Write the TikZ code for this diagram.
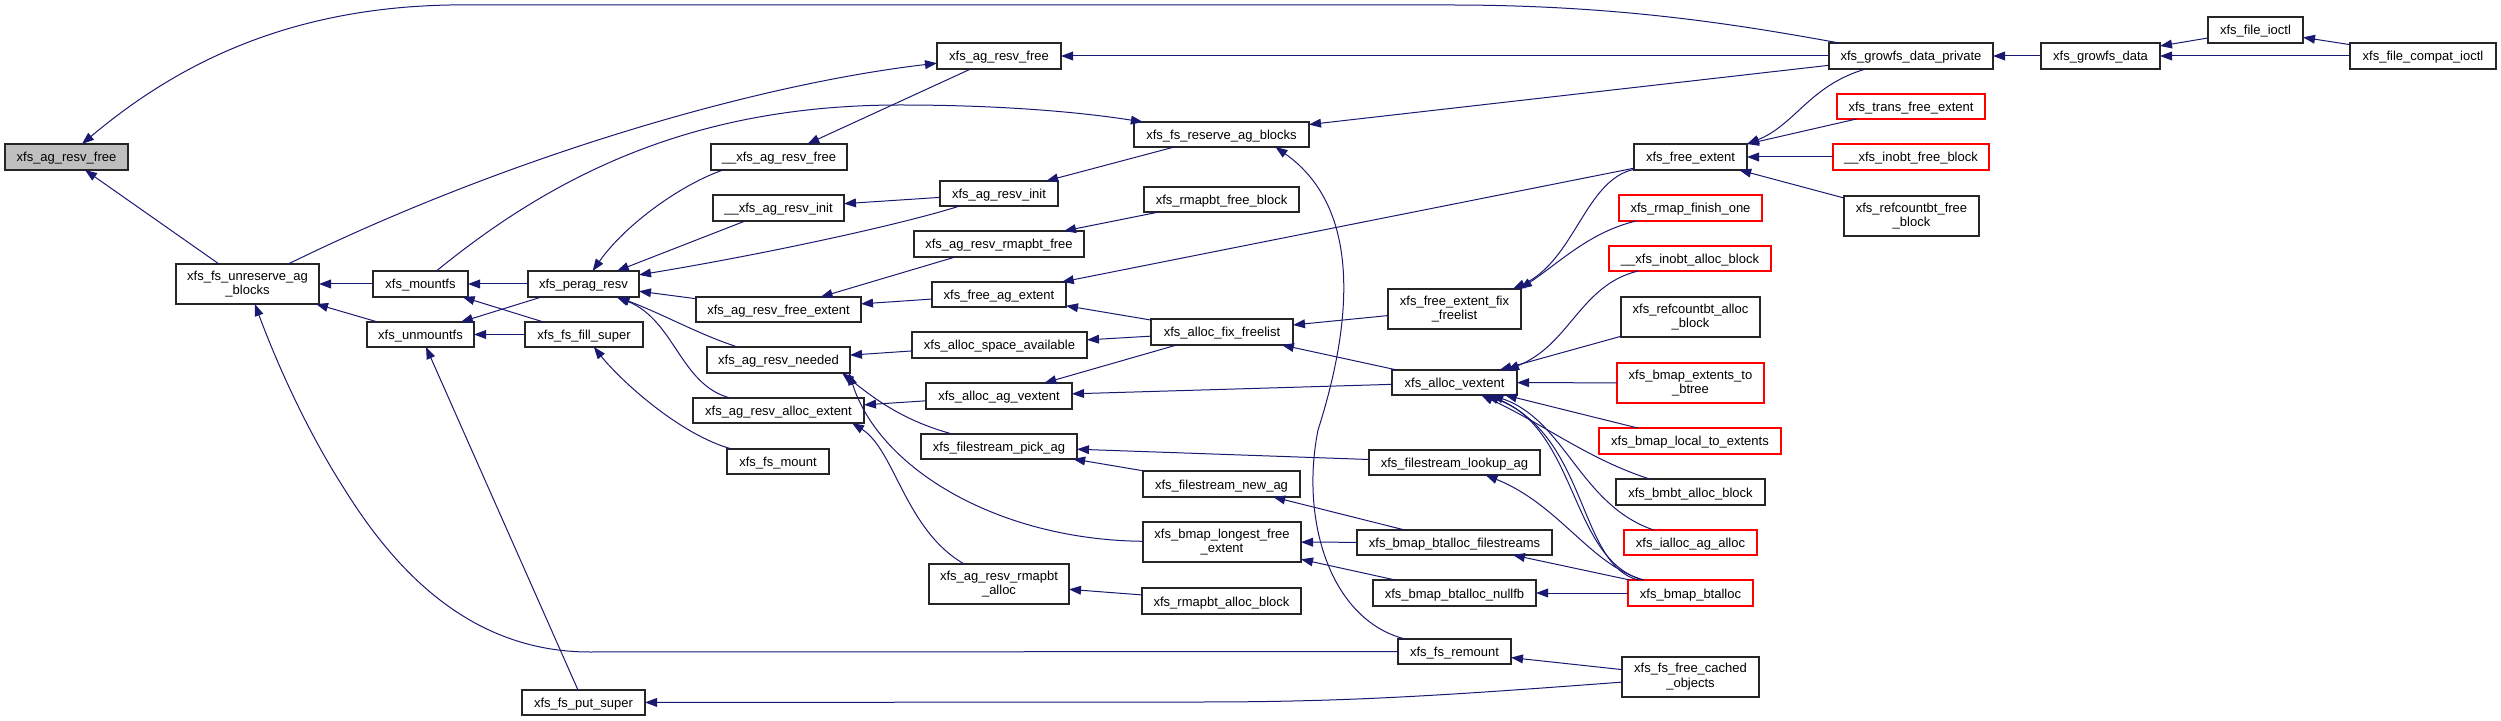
\documentclass[tikz,border=0pt]{standalone}
\usepackage{fontspec}
\setmainfont{Liberation Sans}
\usetikzlibrary{arrows.meta,fit}
\definecolor{edgec}{RGB}{25,25,112}
\definecolor{redc}{RGB}{255,0,0}
\definecolor{rootfill}{RGB}{191,191,191}
\tikzset{
  box/.style={draw=black!85, line width=0.6pt, inner sep=0pt, outer sep=0pt, fill=white},
  redbox/.style={box, draw=redc},
  rootbox/.style={box, fill=rootfill},
  txt/.style={inner sep=0pt, font=\fontsize{6.5}{7.4}\selectfont, text height=0.72em, text depth=0.22em},
  txtt/.style={inner sep=0pt, font=\fontsize{6.5}{7.4}\selectfont, align=center},
  edge/.style={draw=edgec, line width=0.5pt, -{Triangle[length=6pt,width=4.4pt]}}
}
\newcommand\nd[7]{\node[#6, fit={(#2,#3) (#4,#5)}] (#1) {};\node[txt] at (#1.center) {#7};}
\newcommand\ndd[7]{\node[#6, fit={(#2,#3) (#4,#5)}] (#1) {};\node[txtt] at (#1.center) {#7};}
\begin{document}
\begin{tikzpicture}[x=0.5pt,y=-0.5pt]
\useasboundingbox (0,0) rectangle (2501,721);
% nodes
\nd{root}{5}{144}{128}{170}{rootbox}{xfs\_ag\_resv\_free}
\ndd{unres}{176}{264}{319}{304}{box}{xfs\_fs\_unreserve\_ag\\\_blocks}
\nd{mountfs}{373}{271}{468}{297}{box}{xfs\_mountfs}
\nd{unmountfs}{367}{322}{474}{347}{box}{xfs\_unmountfs}
\nd{perag}{528}{271}{639}{297}{box}{xfs\_perag\_resv}
\nd{fill}{525}{322}{643}{347}{box}{xfs\_fs\_fill\_super}
\nd{uagfree}{711}{144}{847}{170}{box}{\_\_xfs\_ag\_resv\_free}
\nd{uaginit}{713}{195}{844}{221}{box}{\_\_xfs\_ag\_resv\_init}
\nd{freeext}{696}{297}{861}{322}{box}{xfs\_ag\_resv\_free\_extent}
\nd{needed}{707}{347}{850}{373}{box}{xfs\_ag\_resv\_needed}
\nd{allocext}{693}{398}{864}{423}{box}{xfs\_ag\_resv\_alloc\_extent}
\nd{fsmount}{727}{449}{829}{474}{box}{xfs\_fs\_mount}
\nd{putsuper}{522}{690}{645}{715}{box}{xfs\_fs\_put\_super}
\nd{agfree2}{937}{43}{1061}{69}{box}{xfs\_ag\_resv\_free}
\nd{reserve}{1134}{122}{1309}{147}{box}{xfs\_fs\_reserve\_ag\_blocks}
\nd{aginit}{940}{181}{1058}{206}{box}{xfs\_ag\_resv\_init}
\nd{rmfreeblk}{1144}{187}{1299}{212}{box}{xfs\_rmapbt\_free\_block}
\nd{rmfree}{914}{231}{1084}{257}{box}{xfs\_ag\_resv\_rmapbt\_free}
\nd{freeag}{932}{282}{1066}{307}{box}{xfs\_free\_ag\_extent}
\nd{spaceav}{912}{332}{1087}{358}{box}{xfs\_alloc\_space\_available}
\nd{fixfl}{1151}{319}{1293}{345}{box}{xfs\_alloc\_fix\_freelist}
\nd{agvext}{926}{383}{1072}{409}{box}{xfs\_alloc\_ag\_vextent}
\nd{pick}{921}{434}{1077}{459}{box}{xfs\_filestream\_pick\_ag}
\nd{newag}{1143}{471}{1300}{497}{box}{xfs\_filestream\_new\_ag}
\ndd{longest}{1143}{522}{1301}{562}{box}{xfs\_bmap\_longest\_free\\\_extent}
\ndd{rmalloc}{929}{564}{1069}{604}{box}{xfs\_ag\_resv\_rmapbt\\\_alloc}
\nd{rmallocblk}{1142}{588}{1301}{614}{box}{xfs\_rmapbt\_alloc\_block}
\nd{remount}{1398}{639}{1511}{664}{box}{xfs\_fs\_remount}
\ndd{cached}{1622}{657}{1759}{697}{box}{xfs\_fs\_free\_cached\\\_objects}
\nd{nullfb}{1373}{580}{1536}{606}{box}{xfs\_bmap\_btalloc\_nullfb}
\nd{bfs}{1357}{530}{1552}{555}{box}{xfs\_bmap\_btalloc\_filestreams}
\nd{lookup}{1369}{450}{1540}{475}{box}{xfs\_filestream\_lookup\_ag}
\nd{vext}{1392}{370}{1517}{395}{box}{xfs\_alloc\_vextent}
\ndd{effl}{1388}{289}{1521}{329}{box}{xfs\_free\_extent\_fix\\\_freelist}
\nd{freeextent}{1634}{144}{1747}{170}{box}{xfs\_free\_extent}
\nd{rmapfin}{1619}{195}{1762}{221}{redbox}{xfs\_rmap\_finish\_one}
\nd{inobtalloc}{1609}{246}{1771}{271}{redbox}{\_\_xfs\_inobt\_alloc\_block}
\ndd{refalloc}{1621}{297}{1760}{337}{box}{xfs\_refcountbt\_alloc\\\_block}
\ndd{ext2bt}{1617}{363}{1764}{403}{redbox}{xfs\_bmap\_extents\_to\\\_btree}
\nd{loc2ext}{1599}{428}{1781}{454}{redbox}{xfs\_bmap\_local\_to\_extents}
\nd{bmbt}{1616}{479}{1765}{505}{box}{xfs\_bmbt\_alloc\_block}
\nd{ialloc}{1624}{530}{1757}{555}{redbox}{xfs\_ialloc\_ag\_alloc}
\nd{btalloc}{1628}{580}{1753}{606}{redbox}{xfs\_bmap\_btalloc}
\nd{gdp}{1829}{43}{1993}{69}{box}{xfs\_growfs\_data\_private}
\nd{transfree}{1837}{94}{1985}{119}{redbox}{xfs\_trans\_free\_extent}
\nd{inobtfree}{1833}{144}{1989}{170}{redbox}{\_\_xfs\_inobt\_free\_block}
\ndd{reffree}{1844}{196}{1979}{236}{box}{xfs\_refcountbt\_free\\\_block}
\nd{gd}{2041}{43}{2160}{69}{box}{xfs\_growfs\_data}
\nd{ioctl}{2208}{17}{2303}{43}{box}{xfs\_file\_ioctl}
\nd{compat}{2350}{43}{2496}{69}{box}{xfs\_file\_compat\_ioctl}
% edges
\draw[edge] (gdp) .. controls (1740,25) and (1620,5) .. (1450,5) -- (450,5) .. controls (280,8) and (170,70) .. (root);
\draw[edge] (unres) -- (root);
\draw[edge] (mountfs) -- (unres);
\draw[edge] (unmountfs) -- (unres);
\draw[edge] (remount) -- (590,652) .. controls (470,652) and (395,570) .. (345,490) .. controls (300,420) and (270,345) .. (unres);
\draw[edge] (unres) .. controls (500,160) and (750,85) .. (agfree2);
\draw[edge] (mountfs) .. controls (560,170) and (700,105) .. (900,105) .. controls (1000,105) and (1080,112) .. (reserve);
\draw[edge] (gdp) -- (agfree2);
\draw[edge] (agfree2) -- (uagfree);
\draw[edge] ([xshift=-28pt]uagfree.south) .. controls (680,185) and (625,225) .. (perag);
\draw[edge] (uaginit) -- (perag);
\draw[edge] (aginit) .. controls (900,225) and (760,255) .. (perag);
\draw[edge] (aginit) -- (uaginit);
\draw[edge] (reserve) -- (aginit);
\draw[edge] (gdp) -- (reserve);
\draw[edge] (remount) .. controls (1330,620) and (1300,520) .. (1318,430) .. controls (1350,330) and (1365,210) .. ([xshift=27pt]reserve.south);
\draw[edge] (freeext) -- (perag);
\draw[edge] (rmfree) -- (freeext);
\draw[edge] (rmfreeblk) -- (rmfree);
\draw[edge] (freeag) -- (freeext);
\draw[edge] (freeextent) -- (freeag);
\draw[edge] (fixfl) -- (freeag);
\draw[edge] (fixfl) -- (spaceav);
\draw[edge] (spaceav) -- (needed);
\draw[edge] (fixfl) -- (agvext);
\draw[edge] (vext) -- (agvext);
\draw[edge] (vext) -- (fixfl);
\draw[edge] (effl) -- (fixfl);
\draw[edge] (freeextent) .. controls (1585,180) and (1575,260) .. ([xshift=-4pt]effl.north east);
\draw[edge] (rmapfin) .. controls (1590,232) and (1560,262) .. ([xshift=-0.5pt]effl.north east);
\draw[edge] (gdp) .. controls (1810,85) and (1795,125) .. (freeextent.north east);
\draw[edge] (transfree) -- (freeextent);
\draw[edge] (inobtfree) -- (freeextent);
\draw[edge] (reffree) -- (freeextent);
\draw[edge] (gd) -- (gdp);
\draw[edge] (ioctl) -- (gd);
\draw[edge] (compat) -- (gd);
\draw[edge] (compat) -- (ioctl);
\draw[edge] (inobtalloc) .. controls (1580,285) and (1570,345) .. ([xshift=-5pt]vext.north east);
\draw[edge] (refalloc) -- (vext);
\draw[edge] (ext2bt) -- (vext);
\draw[edge] (loc2ext) -- (vext);
\draw[edge] (bmbt) .. controls (1590,460) and (1545,425) .. (vext);
\draw[edge] (ialloc) .. controls (1580,505) and (1565,420) .. (vext);
\draw[edge] (btalloc) .. controls (1570,560) and (1578,430) .. (vext);
\draw[edge] (btalloc) .. controls (1578,565) and (1588,435) .. (vext);
\draw[edge] (btalloc) .. controls (1590,565) and (1560,505) .. (lookup);
\draw[edge] (lookup) -- (pick);
\draw[edge] (newag) -- (pick);
\draw[edge] (bfs) -- (newag);
\draw[edge] (bfs) -- (longest);
\draw[edge] (nullfb) -- (longest);
\draw[edge] (btalloc) -- (bfs);
\draw[edge] (btalloc) -- (nullfb);
\draw[edge] (cached) -- (remount);
\draw[edge] (cached) .. controls (1450,695) and (1350,702) .. (1200,702) -- (putsuper);
\draw[edge] (putsuper) -- (unmountfs);
\draw[edge] (fsmount) .. controls (680,435) and (620,380) .. (fill);
\draw[edge] (fill) -- (mountfs);
\draw[edge] (fill) -- (unmountfs);
\draw[edge] (perag) -- (mountfs);
\draw[edge] (perag) -- (unmountfs);
\draw[edge] (needed) .. controls (700,335) and (665,315) .. (perag);
\draw[edge] (allocext) .. controls (680,385) and (675,320) .. (perag);
\draw[edge] (agvext) -- (allocext);
\draw[edge] (pick) .. controls (900,420) and (870,395) .. ([xshift=-4pt]needed.south east);
\draw[edge] (longest) .. controls (1000,540) and (880,470) .. ([xshift=-0.5pt]needed.south east);
\draw[edge] (rmalloc) .. controls (905,530) and (895,450) .. ([xshift=-6pt]allocext.south east);
\draw[edge] (rmallocblk) -- (rmalloc);
\end{tikzpicture}
\end{document}
